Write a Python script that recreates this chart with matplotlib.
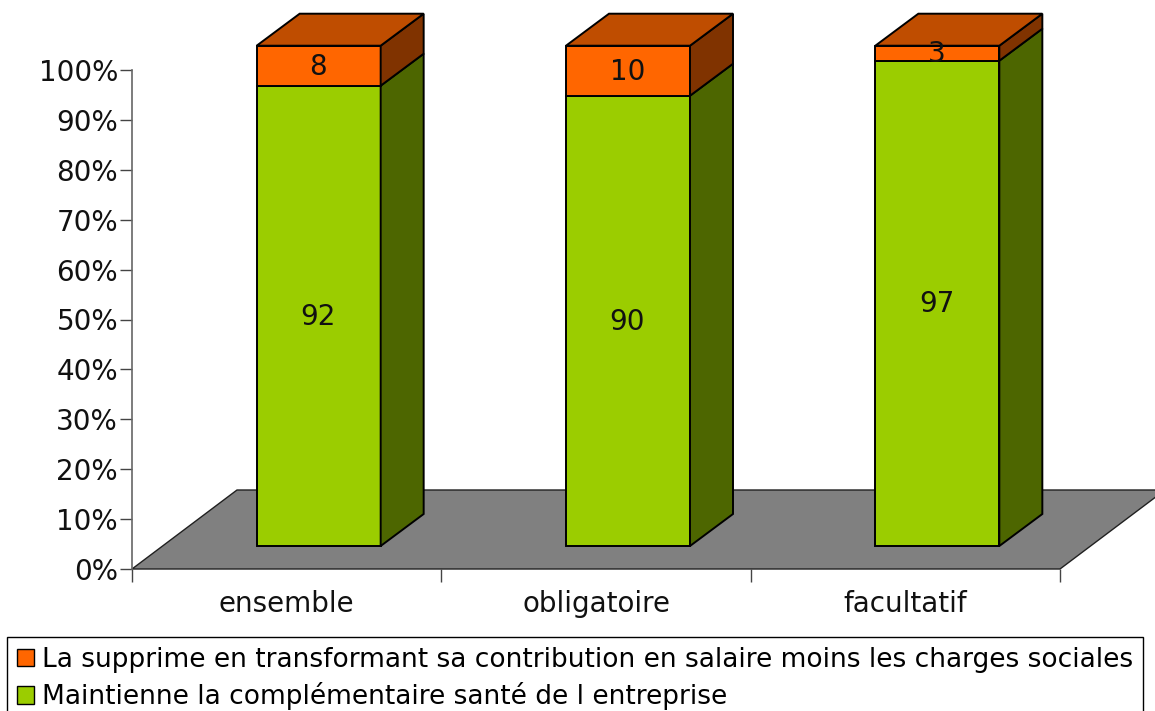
import matplotlib
matplotlib.use('Agg')
import matplotlib.pyplot as plt
from matplotlib.patches import Polygon, Patch

# valeurs
categories = ['ensemble', 'obligatoire', 'facultatif']
maintien = [92, 90, 97]
supprime = [8, 10, 3]
yticks = [0, 10, 20, 30, 40, 50, 60, 70, 80, 90, 100]
label_maintien = 'Maintienne la complémentaire santé de l entreprise'
label_supprime = 'La supprime en transformant sa contribution en salaire moins les charges sociales'

W, H = 1155, 711
fig = plt.figure(figsize=(W / 100, H / 100), dpi=100, facecolor='w')
# axe: 0% a y=569px, 100% a y=70px, categories de x=132 a x=1060
ax = fig.add_axes([132 / W, 1 - 569 / H, (W - 132) / W, 555 / H])
px_x = 928 / 3
px_y = 499 / 100
ax.set_xlim(-0.5, -0.5 + (W - 132) / px_x)
ax.set_ylim(0, 555 / px_y)

# effet 3D
floor_dx, floor_dy = 105 / px_x, 79 / px_y
bar_dx, bar_dy = 43 / px_x, 32 / px_y
off_x, off_y = 32 / px_x, 23 / px_y
bar_w = 124 / px_x

ec = dict(edgecolor='k', linewidth=1.4)

ax.add_patch(Polygon([(-0.5, 0), (2.5, 0), (2.5 + floor_dx, floor_dy), (-0.5 + floor_dx, floor_dy)],
                     facecolor='#808080', clip_on=False, edgecolor='#202020', linewidth=1))


def bloc(x, y0, h, front, side, top):
    x0 = x + off_x - bar_w / 2
    y0 = off_y + y0 * 500.3 / 499
    x1 = x0 + bar_w
    y1 = y0 + h * 500.3 / 499
    ax.add_patch(Polygon([(x0, y0), (x1, y0), (x1, y1), (x0, y1)], facecolor=front, clip_on=False, zorder=3, **ec))
    ax.add_patch(Polygon([(x1, y0), (x1 + bar_dx, y0 + bar_dy), (x1 + bar_dx, y1 + bar_dy), (x1, y1)],
                         facecolor=side, clip_on=False, zorder=3, **ec))
    if top:
        ax.add_patch(Polygon([(x0, y1), (x1, y1), (x1 + bar_dx, y1 + bar_dy), (x0 + bar_dx, y1 + bar_dy)],
                             facecolor=top, clip_on=False, zorder=3, **ec))
    ax.text(x0 + bar_w / 2 - 0.002, (y0 + y1) / 2 - 0.2, str(h), ha='center', va='center', fontsize=20, zorder=5, color='#111111')


for i, cat in enumerate(categories):
    bloc(i, 0, maintien[i], '#9BCD00', '#4D6600', None)
    bloc(i, maintien[i], supprime[i], '#FF6600', '#803300', '#BF4D00')

for s in ['top', 'right', 'bottom']:
    ax.spines[s].set_visible(False)
ax.spines['left'].set_bounds(0, 100)
ax.spines['left'].set_color('#666666')
ax.spines['left'].set_linewidth(1.2)

ax.set_yticks(yticks)
ax.set_yticklabels([f'{v}%' for v in yticks], fontsize=20, color='#111111')
ax.set_xticks([-0.5, 0.5, 1.5, 2.5])
ax.set_xticklabels([])
ax.set_xticks([0, 1, 2], minor=True)
ax.set_xticklabels(categories, minor=True, fontsize=20, color='#111111')
ax.tick_params(axis='x', which='minor', length=0, pad=15)
ax.tick_params(axis='x', which='major', length=9, width=1, color='#444444')
ax.tick_params(axis='y', length=9, width=1, pad=1, color='#444444')

handles = [Patch(facecolor='#FF6600', edgecolor='k', label=label_supprime),
           Patch(facecolor='#9BCD00', edgecolor='k', label=label_maintien)]
leg = fig.legend(handles=handles, loc='lower left', bbox_to_anchor=(7 / W, -9 / H), bbox_transform=fig.transFigure,
                 fontsize=19, frameon=True, fancybox=False, edgecolor='k', framealpha=1, borderaxespad=0,
                 handlelength=0.65, handleheight=0.65, handletextpad=0.28, labelspacing=0.35, borderpad=0.38)
leg.get_frame().set_linewidth(1)

fig.savefig('out.png', dpi=100)
